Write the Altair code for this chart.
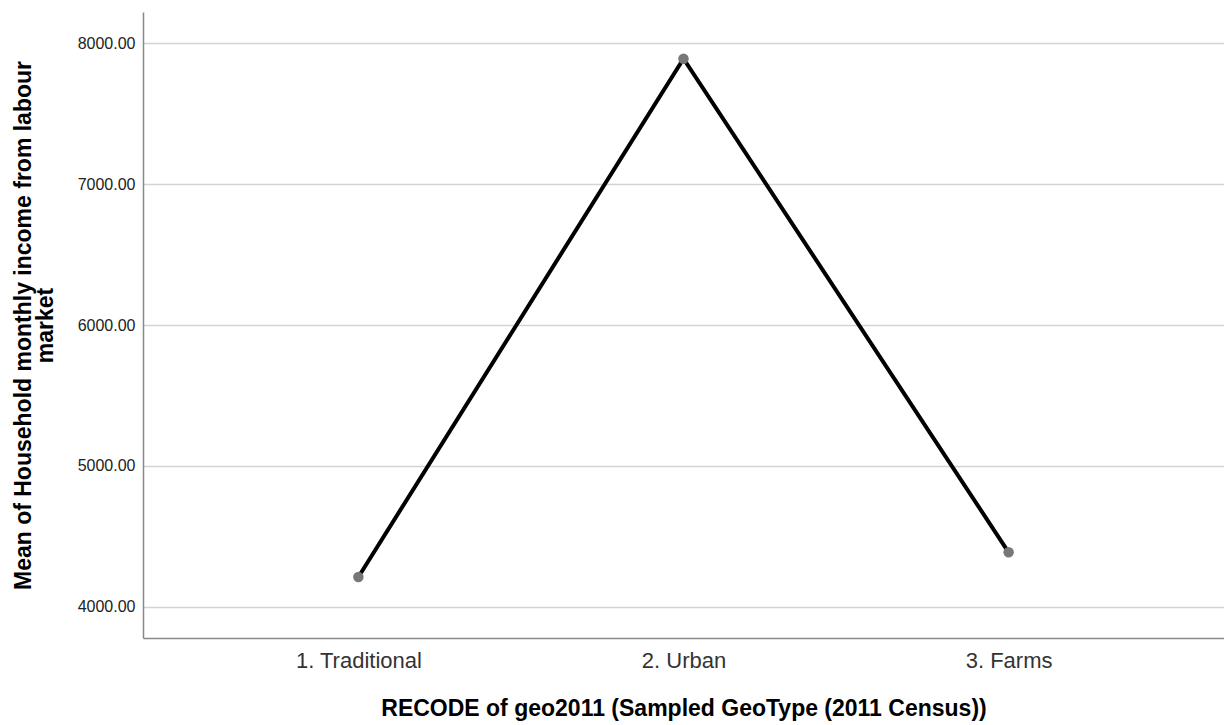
import altair as alt
import pandas as pd

categories = ["1. Traditional", "2. Urban", "3. Farms"]
means = [4213, 7889, 4388]
y_ticks = [4000, 5000, 6000, 7000, 8000]

df = pd.DataFrame({"geo": categories, "mean": means})

x_enc = alt.X(
    "geo:N",
    sort=categories,
    scale=alt.Scale(type="point", padding=0.6625),
    axis=alt.Axis(
        title="RECODE of geo2011 (Sampled GeoType (2011 Census))",
        titleFont="Liberation Sans",
        titleFontSize=23,
        titleFontWeight="bold",
        titleColor="#000000",
        titleBaseline="alphabetic",
        titleY=77,
        labelFont="Liberation Sans",
        labelFontSize=22,
        labelFontWeight="normal",
        labelColor="#333333",
        labelAngle=0,
        labelPadding=12,
        ticks=False,
        grid=False,
        domainColor="#888888",
        domainWidth=1.5,
    ),
)

y_enc = alt.Y(
    "mean:Q",
    scale=alt.Scale(domain=[3780, 8220], nice=False, zero=False),
    axis=alt.Axis(
        title=["Mean of Household monthly income from labour", "market"],
        titleFont="Liberation Sans",
        titleFontSize=23,
        titleFontWeight="bold",
        titleColor="#000000",
        titleBaseline="alphabetic",
        titleLineHeight=22,
        titleX=-113,
        titleAlign="center",
        values=y_ticks,
        format=".2f",
        labelFont="Liberation Sans",
        labelFontSize=16,
        labelColor="#222222",
        labelPadding=8,
        ticks=False,
        grid=True,
        gridColor="#d4d4d4",
        gridWidth=1.5,
        domainColor="#888888",
        domainWidth=1.5,
    ),
)

line = alt.Chart(df).mark_line(color="#000000", strokeWidth=4).encode(x=x_enc, y=y_enc)
points = alt.Chart(df).mark_circle(color="#777777", size=110, opacity=1).encode(x=x_enc, y=y_enc)

chart = (
    alt.layer(line, points)
    .properties(
        width=1081,
        height=626,
        background="#ffffff",
        autosize=alt.AutoSizeParams(type="none"),
        padding={"left": 135, "top": 4, "right": 0, "bottom": 86},
    )
    .configure_view(stroke="transparent", strokeWidth=0)
)

chart.save("out.html", embed_options={"renderer": "svg", "actions": False})
